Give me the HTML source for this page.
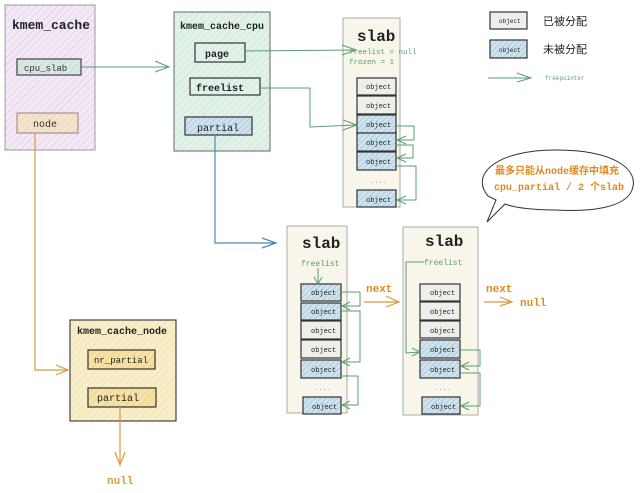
<!DOCTYPE html>
<html><head><meta charset="utf-8"><style>
html,body{margin:0;padding:0;background:#fff;width:640px;height:493px;overflow:hidden}
text{font-family:"Liberation Mono","DejaVu Sans Mono","Noto Sans CJK SC",monospace}
</style></head><body>
<svg width="640" height="493" viewBox="0 0 640 493" xmlns="http://www.w3.org/2000/svg">
<defs>
<pattern id="hp" width="5" height="5" patternUnits="userSpaceOnUse" patternTransform="rotate(45)"><rect width="5" height="5" fill="#f3e8f5"/><line x1="0" y1="0" x2="0" y2="5" stroke="#d9c3de" stroke-width="1"/></pattern>
<pattern id="hg" width="5" height="5" patternUnits="userSpaceOnUse" patternTransform="rotate(45)"><rect width="5" height="5" fill="#e3f2e9"/><line x1="0" y1="0" x2="0" y2="5" stroke="#c3ddd0" stroke-width="1"/></pattern>
<pattern id="hb" width="4" height="4" patternUnits="userSpaceOnUse" patternTransform="rotate(45)"><rect width="4" height="4" fill="#cfe3ef"/><line x1="0" y1="0" x2="0" y2="4" stroke="#8fb6cf" stroke-width="1"/></pattern>
<pattern id="hy" width="5" height="5" patternUnits="userSpaceOnUse" patternTransform="rotate(45)"><rect width="5" height="5" fill="#f8eec9"/><line x1="0" y1="0" x2="0" y2="5" stroke="#eedb9c" stroke-width="1"/></pattern>
<pattern id="ho" width="5" height="5" patternUnits="userSpaceOnUse" patternTransform="rotate(45)"><rect width="5" height="5" fill="#f6e3cc"/><line x1="0" y1="0" x2="0" y2="5" stroke="#e8c9a4" stroke-width="1"/></pattern>
<pattern id="hyy" width="5" height="5" patternUnits="userSpaceOnUse" patternTransform="rotate(45)"><rect width="5" height="5" fill="#f6e2a6"/><line x1="0" y1="0" x2="0" y2="5" stroke="#e6c56c" stroke-width="1"/></pattern>
<pattern id="hgg" width="5" height="5" patternUnits="userSpaceOnUse" patternTransform="rotate(45)"><rect width="5" height="5" fill="#d9e8e1"/><line x1="0" y1="0" x2="0" y2="5" stroke="#b9d1c4" stroke-width="1"/></pattern>
</defs>

<!-- kmem_cache -->
<rect x="5" y="5" width="90" height="145" fill="url(#hp)" stroke="#999" stroke-width="1"/>
<text x="12" y="29" font-size="13" font-weight="bold" fill="#222">kmem_cache</text>
<rect x="17" y="59" width="64" height="16" fill="url(#hgg)" stroke="#444" stroke-width="1.2"/>
<text x="24" y="71" font-size="9" fill="#333">cpu_slab</text>
<rect x="17" y="113" width="61" height="20" fill="url(#ho)" stroke="#888" stroke-width="1"/>
<text x="33" y="127" font-size="10" fill="#333">node</text>

<!-- kmem_cache_cpu -->
<rect x="174" y="12" width="96" height="139" fill="url(#hg)" stroke="#666" stroke-width="1"/>
<text x="180" y="29" font-size="10" font-weight="bold" fill="#222">kmem_cache_cpu</text>
<rect x="195" y="43" width="50" height="19" fill="url(#hg)" stroke="#333" stroke-width="1.2"/>
<text x="205" y="57" font-size="10" font-weight="bold" fill="#222">page</text>
<rect x="190" y="78" width="70" height="17" fill="url(#hg)" stroke="#333" stroke-width="1.2"/>
<text x="196" y="91" font-size="10" font-weight="bold" fill="#222">freelist</text>
<rect x="185" y="117" width="67" height="18" fill="url(#hb)" stroke="#333" stroke-width="1.2"/>
<text x="197" y="131" font-size="10" fill="#222">partial</text>

<!-- slab1 -->
<rect x="343" y="18" width="57" height="189" fill="#f8f6ea" stroke="#aaa" stroke-width="1"/>
<text x="357" y="41" font-size="16" font-weight="bold" fill="#222">slab</text>
<text x="349" y="54" font-size="7.5" fill="#5a9e72">freelist = null</text>
<text x="349" y="64" font-size="7.5" fill="#5a9e72">frozen = 1</text>
<g font-size="7" fill="#222" stroke-width="1.2">
<rect x="357" y="78" width="39" height="17" fill="#f0eeeb" stroke="#333"/><text x="366" y="89">object</text>
<rect x="357" y="96" width="39" height="18" fill="#f0eeeb" stroke="#333"/><text x="366" y="108">object</text>
<rect x="357" y="115" width="39" height="18" fill="url(#hb)" stroke="#333"/><text x="366" y="127">object</text>
<rect x="357" y="133" width="39" height="18" fill="url(#hb)" stroke="#333"/><text x="366" y="145">object</text>
<rect x="357" y="152" width="39" height="18" fill="url(#hb)" stroke="#333"/><text x="366" y="164">object</text>
<text x="370" y="183" fill="#999">....</text>
<rect x="357" y="190" width="39" height="17" fill="url(#hb)" stroke="#333"/><text x="366" y="202">object</text>
</g>

<!-- legend -->
<rect x="490" y="12" width="37" height="17" fill="#f0eeeb" stroke="#333" stroke-width="1.2"/>
<text x="499" y="23" font-size="6" fill="#222">object</text>
<text x="543" y="25" font-size="11" fill="#222">已被分配</text>
<rect x="490" y="40" width="37" height="18" fill="url(#hb)" stroke="#333" stroke-width="1.2"/>
<text x="499" y="52" font-size="6" fill="#222">object</text>
<text x="543" y="53" font-size="11" fill="#222">未被分配</text>
<text x="545" y="80" font-size="6" fill="#5a9e72">freepointer</text>

<!-- bubble -->
<path d="M488 196 C470 175 495 150 556 150 C615 150 640 170 632 190 C625 208 590 212 556 210 C535 210 515 208 505 204 L487 222 L496 200 Z" fill="#fff" stroke="#333" stroke-width="1"/>
<text x="495" y="174" font-size="10" fill="#e08a1e" font-weight="bold">最多只能从node缓存中填充</text>
<text x="494" y="190" font-size="10" fill="#e08a1e" font-weight="bold">cpu_partial / 2 个slab</text>

<!-- slab2 -->
<rect x="287" y="226" width="60" height="187" fill="#f8f6ea" stroke="#aaa" stroke-width="1"/>
<text x="302" y="248" font-size="16" font-weight="bold" fill="#222">slab</text>
<text x="301" y="266" font-size="8" fill="#5a9e72">freelist</text>
<g font-size="7" fill="#222" stroke-width="1.2">
<rect x="301" y="284" width="40" height="17" fill="url(#hb)" stroke="#333"/><text x="311" y="295">object</text>
<rect x="301" y="303" width="40" height="17" fill="url(#hb)" stroke="#333"/><text x="311" y="314">object</text>
<rect x="301" y="321" width="40" height="18" fill="#f0eeeb" stroke="#333"/><text x="311" y="333">object</text>
<rect x="301" y="340" width="40" height="18" fill="#f0eeeb" stroke="#333"/><text x="311" y="352">object</text>
<rect x="301" y="360" width="40" height="18" fill="url(#hb)" stroke="#333"/><text x="311" y="372">object</text>
<text x="314" y="390" fill="#999">....</text>
<rect x="303" y="397" width="38" height="17" fill="url(#hb)" stroke="#333"/><text x="312" y="409">object</text>
</g>
<text x="366" y="292" font-size="11" font-weight="bold" fill="#e08a1e">next</text>

<!-- slab3 -->
<rect x="403" y="227" width="75" height="188" fill="#f8f6ea" stroke="#aaa" stroke-width="1"/>
<text x="425" y="246" font-size="16" font-weight="bold" fill="#222">slab</text>
<text x="424" y="265" font-size="8" fill="#5a9e72">freelist</text>
<g font-size="7" fill="#222" stroke-width="1.2">
<rect x="420" y="284" width="40" height="17" fill="#f0eeeb" stroke="#333"/><text x="430" y="295">object</text>
<rect x="420" y="302" width="40" height="18" fill="#f0eeeb" stroke="#333"/><text x="430" y="314">object</text>
<rect x="420" y="321" width="40" height="17" fill="#f0eeeb" stroke="#333"/><text x="430" y="333">object</text>
<rect x="420" y="340" width="40" height="18" fill="url(#hb)" stroke="#333"/><text x="430" y="352">object</text>
<rect x="420" y="360" width="40" height="18" fill="url(#hb)" stroke="#333"/><text x="430" y="372">object</text>
<text x="434" y="390" fill="#999">....</text>
<rect x="422" y="397" width="38" height="17" fill="url(#hb)" stroke="#333"/><text x="431" y="409">object</text>
</g>
<text x="486" y="292" font-size="11" font-weight="bold" fill="#e08a1e">next</text>
<text x="520" y="306" font-size="11" font-weight="bold" fill="#e08a1e">null</text>

<!-- kmem_cache_node -->
<rect x="70" y="320" width="106" height="101" fill="url(#hy)" stroke="#444" stroke-width="1.2"/>
<text x="77" y="334" font-size="10" font-weight="bold" fill="#222">kmem_cache_node</text>
<rect x="88" y="350" width="67" height="19" fill="url(#hyy)" stroke="#333" stroke-width="1.2"/>
<text x="94" y="363" font-size="9" fill="#222">nr_partial</text>
<rect x="88" y="388" width="68" height="19" fill="url(#hyy)" stroke="#333" stroke-width="1.2"/>
<text x="97" y="401" font-size="10" fill="#222">partial</text>
<text x="107" y="484" font-size="11" font-weight="bold" fill="#d99a3c">null</text>

<!-- connectors green -->
<g stroke="#5a9e72" stroke-width="1" fill="none">
<path d="M81 67 L168 67 M155 61 L169 67 L155 72"/>
<path d="M245 51 L355 50 M342 45 L356 50 L342 55"/>
<path d="M260 88 L310 88 L310 127 L356 125 M343 120 L357 125 L343 130"/>
<path d="M396 126 L414 126 L414 140 L397 140 M406 136 L397 140 L406 144"/>
<path d="M396 145 L413 145 L413 158 L397 158 M406 154 L397 158 L406 162"/>
<path d="M396 166 L416 166 L416 200 L397 200 M406 196 L397 200 L406 204"/>
<path d="M318 268 L318 284 M314 277 L318 284 L322 277"/>
<path d="M342 292 L360 292 L360 306 L342 306 M350 302 L342 306 L350 310"/>
<path d="M342 311 L360 311 L360 362 L342 362 M350 358 L342 362 L350 366"/>
<path d="M342 376 L358 376 L358 405 L342 405 M350 401 L342 405 L350 409"/>
<path d="M424 262 L406 262 L406 353 L420 352 M412 348 L420 352 L412 356"/>
<path d="M461 350 L480 350 L480 366 L461 366 M469 362 L461 366 L469 370"/>
<path d="M461 373 L480 373 L480 406 L461 406 M469 402 L461 406 L469 410"/>
<path d="M488 78 L530 78 M517 73 L531 78 L517 82"/>
</g>

<g stroke="#4a8ab0" stroke-width="1.2" fill="none">
<path d="M215 135 L215 243 L275 243 M262 238 L276 243 L262 248"/>
</g>

<g stroke="#d99a3c" stroke-width="1.2" fill="none">
<path d="M35 133 L35 370 L68 370 M56 365 L68 370 L56 375"/>
<path d="M120 407 L120 465 M115 452 L120 465 L125 452"/>
<path d="M364 302 L398 302 M386 296 L399 302 L386 307"/>
<path d="M484 302 L511 302 M500 297 L512 302 L500 306"/>
</g>
</svg>
</body></html>
